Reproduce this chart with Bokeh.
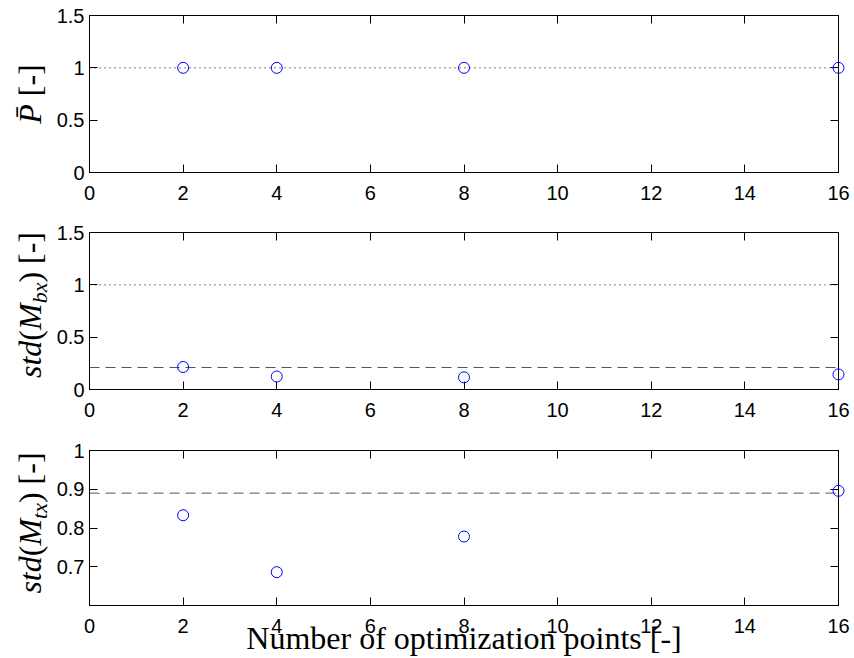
import math
from bokeh.plotting import figure
from bokeh.models import Range1d, LinearAxis, FixedTicker, Span, Label
from bokeh.layouts import column, row
from bokeh.embed import file_html
from bokeh.resources import INLINE

# ---------------- data ----------------
n_points = [2, 4, 8, 16]
p_bar = [1.0, 1.0, 1.0, 1.0]
std_mbx = [0.215, 0.124, 0.116, 0.144]
std_mtx = [0.833, 0.686, 0.778, 0.896]

p_bar_ref = 1.0          # dotted reference, panel 1
mbx_ref_dot = 1.0        # dotted reference, panel 2
mbx_ref_dash = 0.21      # dashed reference, panel 2
mtx_ref_dash = 0.89      # dashed reference, panel 3

x_ticks = [0, 2, 4, 6, 8, 10, 12, 14, 16]
y_ticks_p = [0, 0.5, 1, 1.5]
y_ticks_mbx = [0, 0.5, 1, 1.5]
y_ticks_mtx = [0.7, 0.8, 0.9, 1]

x_label = "Number of optimization points [-]"

# ---------------- style ----------------
TICK_FONT = "Liberation Sans"
TICK_SIZE = "20px"
SERIF = "Liberation Serif"
FRAME_H = 157
STRIP_W = 53
MAIN_PX = 32
SUB_PX = 22
SUB_SHIFT = 10
GAP = "\u2009"   # marker for a blank gap inside a label (not drawn)

ITALIC_W = {"s": .389, "t": .278, "d": .5, "M": .833, "b": .5, "x": .444, "P": .611}
ROMAN_W = {"[": .333, "-": .333, "]": .333, "(": .333, ")": .333, GAP: .25}


def text_width(txt, italic, size):
    table = ITALIC_W if italic else ROMAN_W
    return sum(table.get(ch, 0.0) for ch in txt) * size


def label_strip(parts, top, bottom, mid_x=29, nudge=0):
    """Narrow figure at the left that holds the rotated y-axis label of one panel."""
    height = top + FRAME_H + bottom
    f = figure(width=STRIP_W, height=height, x_range=Range1d(0, 1), y_range=Range1d(0, 1),
               output_backend="svg", toolbar_location=None,
               x_axis_location=None, y_axis_location=None, min_border=0)
    f.xgrid.visible = False
    f.ygrid.visible = False
    f.outline_line_color = None
    f.background_fill_color = "white"
    f.border_fill_color = "white"
    widths = [text_width(t, it, s) for t, it, s, _ in parts]
    total = sum(widths)
    centre = top + FRAME_H / 2 - nudge      # canvas units, measured from the top
    cum = 0.0
    for (t, it, s, shift), w in zip(parts, widths):
        cy = centre + total / 2 - (cum + w / 2)
        cum += w
        if t == GAP:
            continue
        f.add_layout(Label(x=mid_x + shift, y=cy, x_units="canvas", y_units="canvas",
                           text=t, angle=math.pi / 2, text_font=SERIF,
                           text_font_style="italic" if it else "normal",
                           text_font_size=f"{s}px", text_align="center",
                           text_baseline="middle", text_color="black"))
    return f


def make_panel(y_lo, y_hi, y_ticks, top, bottom):
    height = top + FRAME_H + bottom
    p = figure(width=854 - STRIP_W, height=height, x_range=Range1d(0, 16),
               y_range=Range1d(y_lo, y_hi),
               output_backend="svg", toolbar_location=None,
               min_border_left=88 - STRIP_W, min_border_right=16,
               min_border_top=top, min_border_bottom=bottom)
    p.xgrid.visible = False
    p.ygrid.visible = False
    p.outline_line_color = "black"
    p.outline_line_width = 1
    p.outline_line_alpha = 1
    p.background_fill_color = "white"
    p.border_fill_color = "white"

    for ax in p.xaxis:
        ax.ticker = FixedTicker(ticks=x_ticks)
    for ax in p.yaxis:
        ax.ticker = FixedTicker(ticks=y_ticks)
    p.add_layout(LinearAxis(ticker=FixedTicker(ticks=x_ticks)), "above")
    p.add_layout(LinearAxis(ticker=FixedTicker(ticks=y_ticks)), "right")

    for ax in p.axis:
        ax.major_tick_in = 8
        ax.major_tick_out = 0
        ax.minor_tick_in = 0
        ax.minor_tick_out = 0
        ax.major_tick_line_color = "black"
        ax.axis_line_color = "black"
        ax.major_label_text_font = TICK_FONT
        ax.major_label_text_font_size = TICK_SIZE
        ax.major_label_text_color = "black"
    for ax in (p.above[0], p.right[0]):
        ax.major_label_text_font_size = "0px"
        ax.major_label_text_color = None
        ax.major_label_standoff = 0
    p.below[0].major_label_standoff = 13
    p.left[0].major_label_standoff = 5
    return p


# Panel 1
p1 = make_panel(0, 1.5, y_ticks_p, 15, 45)
p1.add_layout(Span(location=p_bar_ref, dimension="width", line_color="black",
                   line_dash="1 4", line_width=1))
p1.scatter(n_points, p_bar, marker="circle", size=11, fill_color=None,
           line_color="#0000ff", line_width=1, level="overlay")
l1 = label_strip([("P\u0304", True, MAIN_PX, 0), (GAP, False, MAIN_PX, 0),
                  ("[-]", False, MAIN_PX, 0)], 15, 45)

# Panel 2
p2 = make_panel(0, 1.5, y_ticks_mbx, 15, 45)
p2.add_layout(Span(location=mbx_ref_dot, dimension="width", line_color="black",
                   line_dash="1 4", line_width=1))
p2.add_layout(Span(location=mbx_ref_dash, dimension="width", line_color="#555555",
                   line_dash="10 6", line_width=1))
p2.scatter(n_points, std_mbx, marker="circle", size=11, fill_color=None,
           line_color="#0000ff", line_width=1, level="overlay")
l2 = label_strip([("std", True, MAIN_PX, 0), ("(", False, MAIN_PX, 0), ("M", True, MAIN_PX, 0),
                  ("bx", True, SUB_PX, SUB_SHIFT), (")", False, MAIN_PX, 0),
                  (GAP, False, MAIN_PX, 0), ("[-]", False, MAIN_PX, 0)], 15, 45, nudge=6)

# Panel 3
p3 = make_panel(0.6, 1.0, y_ticks_mtx, 16, 51)
p3.add_layout(Span(location=mtx_ref_dash, dimension="width", line_color="#555555",
                   line_dash="10 6", line_width=1))
p3.scatter(n_points, std_mtx, marker="circle", size=11, fill_color=None,
           line_color="#0000ff", line_width=1, level="overlay")
l3 = label_strip([("std", True, MAIN_PX, 0), ("(", False, MAIN_PX, 0), ("M", True, MAIN_PX, 0),
                  ("tx", True, SUB_PX, SUB_SHIFT), (")", False, MAIN_PX, 0),
                  (GAP, False, MAIN_PX, 0), ("[-]", False, MAIN_PX, 0)], 16, 51, nudge=6)
xax = p3.below[0]
xax.axis_label = x_label
xax.axis_label_text_font = SERIF
xax.axis_label_text_font_style = "normal"
xax.axis_label_text_font_size = "32px"
xax.axis_label_text_color = "black"
xax.axis_label_standoff = -16

layout = column(row(l1, p1, spacing=0), row(l2, p2, spacing=0), row(l3, p3, spacing=0),
                spacing=0)
open("out.html", "w").write(file_html(layout, INLINE))
